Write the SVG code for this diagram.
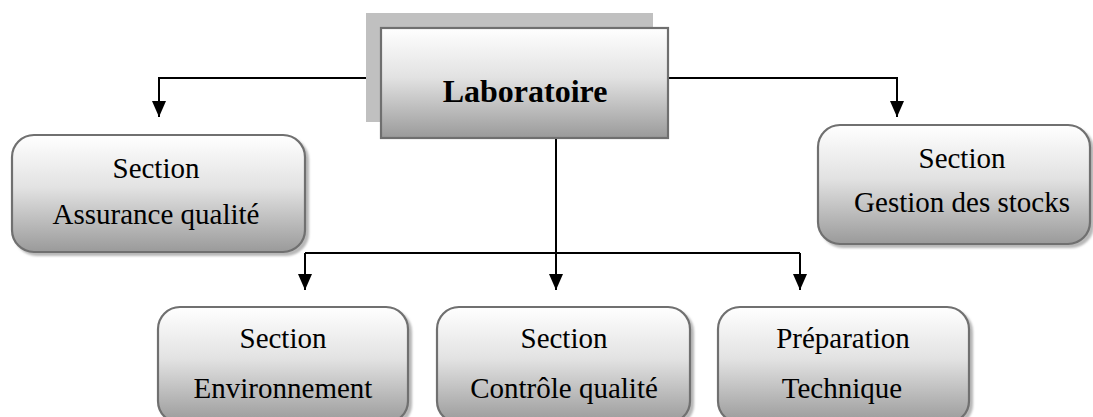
<svg xmlns="http://www.w3.org/2000/svg" width="1093" height="417" viewBox="0 0 1093 417">
<defs>
<linearGradient id="g" x1="0" y1="0" x2="0" y2="1">
<stop offset="0" stop-color="#ffffff"/>
<stop offset="0.45" stop-color="#e2e2e2"/>
<stop offset="1" stop-color="#9a9a9a"/>
</linearGradient>
<marker id="ah" markerUnits="userSpaceOnUse" markerWidth="16" markerHeight="14" refX="16" refY="7" orient="auto">
<path d="M0,0 L16,7 L0,14 z" fill="#000"/>
</marker>
<filter id="sh" x="-5%" y="-5%" width="112%" height="115%">
<feDropShadow dx="3" dy="3" stdDeviation="1.2" flood-color="#888" flood-opacity="0.6"/>
</filter>
</defs>
<style>
.box{fill:url(#g);stroke:#6f6f6f;stroke-width:2.2;filter:url(#sh)}
.t{font-family:"Liberation Serif","Times New Roman",serif;font-size:29px;fill:#000;text-anchor:middle}
.b{font-weight:bold;font-size:32px}
.c{fill:none;stroke:#000;stroke-width:2}
</style>
<g id="connectors">
<path class="c" d="M373,78 H159 V117" marker-end="url(#ah)"/>
<path class="c" d="M668,78 H897 V117" marker-end="url(#ah)"/>
<path class="c" d="M556,138 V290" marker-end="url(#ah)"/>
<path class="c" d="M305,253 H800"/>
<path class="c" d="M305,253 V290" marker-end="url(#ah)"/>
<path class="c" d="M800,253 V290" marker-end="url(#ah)"/>
</g>
<g id="laboratoire">
<rect x="366" y="13" width="287" height="109" fill="#c0c0c0"/>
<rect x="381" y="28" width="287" height="110" fill="url(#g)" stroke="#6f6f6f" stroke-width="2.2"/>
<text class="t b" x="525" y="102">Laboratoire</text>
</g>
<g id="assurance">
<rect class="box" x="12" y="135" width="293" height="117" rx="22"/>
<text class="t" x="156" y="178">Section</text>
<text class="t" x="156" y="224">Assurance qualité</text>
</g>
<g id="stocks">
<rect class="box" x="818" y="125" width="272" height="119" rx="22"/>
<text class="t" x="962" y="168">Section</text>
<text class="t" x="962" y="212">Gestion des stocks</text>
</g>
<g id="environnement">
<rect class="box" x="158" y="307" width="250" height="116" rx="22"/>
<text class="t" x="283" y="348">Section</text>
<text class="t" x="283" y="398">Environnement</text>
</g>
<g id="controle">
<rect class="box" x="437" y="307" width="253" height="116" rx="22"/>
<text class="t" x="564" y="348">Section</text>
<text class="t" x="564" y="398">Contrôle qualité</text>
</g>
<g id="preparation">
<rect class="box" x="718" y="307" width="251" height="116" rx="22"/>
<text class="t" x="843" y="348">Préparation</text>
<text class="t" x="842" y="398">Technique</text>
</g>
</svg>
